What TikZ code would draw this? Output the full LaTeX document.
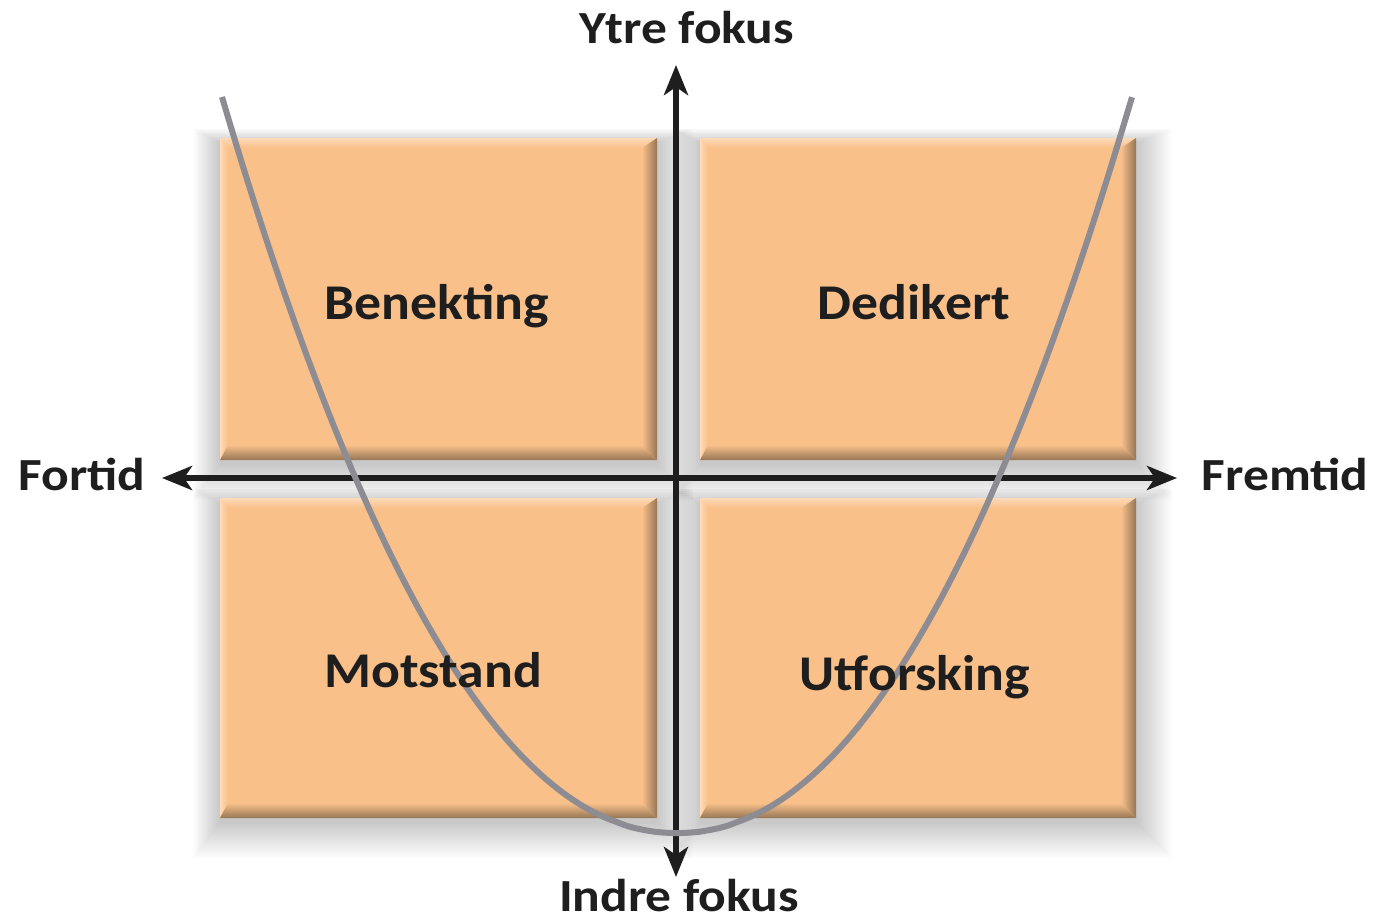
\documentclass[tikz,border=0pt]{standalone}
\usepackage{fontspec}
\setmainfont{Carlito}
\newfontfamily\axisfont[FakeStretch=1.12]{Carlito}
\newfontfamily\boxfont[FakeStretch=1.075]{Carlito}
\usetikzlibrary{arrows.meta}
\definecolor{peach}{RGB}{249,192,138}
\definecolor{peachdark}{RGB}{150,118,86}
\definecolor{peachlight}{RGB}{253,218,184}
\definecolor{curvegray}{RGB}{140,140,146}
\definecolor{axisblack}{RGB}{30,30,30}
\tikzset{
 lbl/.style={font=\axisfont\bfseries\fontsize{46}{46}\selectfont, text=axisblack, inner sep=0pt, anchor=base},
 boxlbl/.style={font=\boxfont\bfseries\fontsize{50}{50}\selectfont, text=axisblack, inner sep=0pt, anchor=base},
 axisarrow/.style={line width=6.5pt, draw=axisblack, {Stealth[length=30pt,width=24pt,inset=8pt]}-{Stealth[length=30pt,width=24pt,inset=8pt]}},
 curveline/.style={draw=curvegray, line width=6pt},
}
\newcommand\bevelbox[4]{%
 \foreach \s in {1,...,18}{%
   \fill[black, opacity=0.013] ({#1-\s*1.5},{#2-\s*0.8+5}) rectangle ({#3+\s*2},{#4+\s*2+4});
 }%
 \fill[peach] (#1,#2) rectangle (#3,#4);
 \shade[top color=peachlight, bottom color=peach] (#1,#2) -- (#3,#2) -- ({#3-15},{#2+10}) -- ({#1+8},{#2+10}) -- cycle;
 \shade[left color=peachlight, right color=peach] (#1,#2) -- ({#1+8},{#2+10}) -- ({#1+8},{#4-15}) -- (#1,#4) -- cycle;
 \shade[top color=peach, bottom color=peachdark] (#1,#4) -- ({#1+8},{#4-15}) -- ({#3-15},{#4-15}) -- (#3,#4) -- cycle;
 \shade[left color=peach, right color=peachdark] (#3,#2) -- (#3,#4) -- ({#3-15},{#4-15}) -- ({#3-15},{#2+10}) -- cycle;
}
\begin{document}
\begin{tikzpicture}[x=1pt,y=-1pt]
\fill[white] (0,0) rectangle (1376,921);
\useasboundingbox (0,0) rectangle (1376,921);
% boxes
\bevelbox{220}{138}{657}{460}
\bevelbox{700}{138}{1136}{460}
\bevelbox{220}{498}{657}{818}
\bevelbox{700}{498}{1136}{818}
% axes
\coordinate (top) at (676,65);
\coordinate (bot) at (676,877);
\coordinate (west) at (162,478);
\coordinate (east) at (1177,478);
\draw[axisarrow] (bot) -- (top);
\draw[axisarrow] (west) -- (east);
% curve
\draw[curveline] plot[domain=-455:455, samples=100, smooth] ({677+\x},{833-736*(abs(\x)/455)^2.1});
% axis labels
\node[lbl] (ytre) at (687,43) {Ytre fokus};
\node[lbl] (indre) at (679,911) {Indre fokus};
\node[lbl] (fortid) at (82,490) {Fortid};
\node[lbl] (fremtid) at (1285,490) {Fremtid};
% box labels
\node[boxlbl] (benekting) at (437,319) {Benekting};
\node[boxlbl] (dedikert) at (914,319) {Dedikert};
\node[boxlbl] (motstand) at (433,687) {Motstand};
\node[boxlbl] (utforsking) at (915,690) {Utforsking};
\end{tikzpicture}
\end{document}
